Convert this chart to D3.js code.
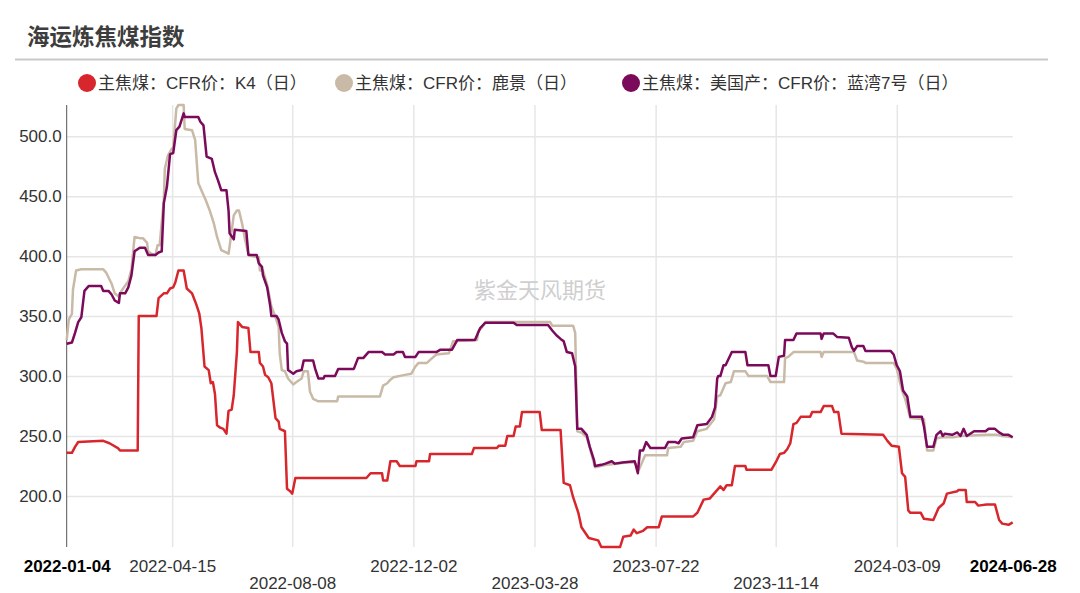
<!DOCTYPE html>
<html>
<head>
<meta charset="utf-8">
<script src="https://cdn.jsdelivr.net/npm/d3@7"></script>
<style>
html,body{margin:0;padding:0;background:#fff;}
svg{display:block;}
</style>
</head>
<body>
<svg id="chart" width="1080" height="593"></svg>
<script>
// ---------------- data ----------------
const title = "海运炼焦煤指数";
const watermark = "紫金天风期货";
const startDate = "2022-01-04";   // day 0
const endDate = "2024-06-28";
const seriesNames = ["主焦煤：CFR价：K4（日）", "主焦煤：CFR价：鹿景（日）", "主焦煤：美国产：CFR价：蓝湾7号（日）"];
const seriesColors = ["#d7262c", "#c8baa6", "#7c0a5b"];
const xTickLabels = ["2022-01-04","2022-04-15","2022-08-08","2022-12-02","2023-03-28","2023-07-22","2023-11-14","2024-03-09","2024-06-28"];
const yTickValues = [200, 250, 300, 350, 400, 450, 500];

// [days since startDate, value]
const k4 = [
[0,236],[5,236],[8,241],[11,245],[35,246],[41,244],[49,240],[51,238],[68,238],[69,350],[86,350],[88,365],[93,369],[96,369],[99,373],[102,374],[104,378],[107,388],[112,388],[115,373],[120,369],[124,360],[127,352],[129,340],[132,308],[136,305],[138,294],[140,295],[142,285],[144,259],[147,257],[150,256],[153,252],[155,271],[158,272],[160,284],[163,320],[164,345],[168,341],[174,340],[176,320],[184,320],[185,311],[188,308],[190,301],[193,299],[196,294],[200,265],[203,262],[204,256],[209,254],[211,206],[214,204],[216,202],[219,215],
[287,215],[291,219],[302,219],[303,213],[307,213],[310,229],[316,229],[319,225],[334,225],[335,229],[347,229],[348,235],[388,235],[390,240],[412,240],[414,242],[420,242],[422,250],[428,250],[430,258],[434,258],[436,270],[453,270],[455,255],[473,255],[476,211],[482,209],[485,199],[490,186],[493,174],[500,165],[509,163],[512,157.5],[530,157.5],[533,166],[540,167],[543,172],[546,169],[552,171],[556,174],[567,174],[570,183],[600,183],[604,186],[610,197],[616,198],[626,208],
[629,205],[632,209],[637,209],[640,225],[650,225],[651,222],[675,222],[679,228],[683,235],[687,236],[690,239],[693,244],[696,260],[699,261],[703,266],[712,266],[714,270],[722,270],[725,275],[733,275],[735,270],[739,270],[742,252],[782,251],[786,246],[790,242],[797,241],[800,219],[803,216],[806,188],[808,186],[818,186],[821,181],[830,180],[835,190],[840,194],[843,202],[853,204],[854,205],[861,205],[862,195],[870,195],[873,192],[881,193],[889,193],[893,180],[896,177],[902,176],[906,178]
];

const lujing = [
[0,330],[2,347],[5,352],[6,372],[9,388],[14,389],[35,389],[38,386],[43,377],[46,369],[50,366],[51,369],[54,373],[59,379],[62,389],[65,416],[70,415],[73,415],[77,411],[78,404],[81,402],[85,401],[87,409],[89,409],[93,447],[94,473],[97,484],[101,490],[102,490],[105,523],[107,526],[112,526],[113,506],[120,505],[123,497],[126,461],[129,455],[133,447],[137,438],[141,427],[144,416],[148,405],[155,402],[156,408],[160,434],[163,438],[165,438],[168,427],[171,413],[174,402],[177,400],[184,399],[185,388],[188,388],[192,376],[196,358],[200,349],[203,341],[204,319],[206,305],[209,304],[212,298],[217,293],[220,295],[225,298],[227,304],[231,304],[233,287],[236,281],[241,279],[259,279],[260,283],
[300,283],[303,292],[307,294],[310,297],[313,299],[324,301],[330,302],[334,308],[337,311],[345,311],[350,315],[354,318],[366,319],[370,329],[393,330],[394,337],[398,341],[401,345],[463,345],[465,342],[485,342],[487,336],[489,254],[493,253],[498,249],[501,240],[506,224],[517,226],[527,227],[536,228],[544,228],[548,222],[551,228],[554,234],[575,234],[576,240],[588,241],[591,245],[600,246],[604,254],[613,256],[620,264],[623,283],
[626,284],[631,294],[636,295],[639,304],[650,304],[653,300],[671,300],[674,295],[687,295],[688,315],[691,316],[696,320],[722,320],[723,316],[725,320],[754,320],[757,313],[763,312],[765,311],[792,311],[795,306],[800,288],[803,281],[808,265],[821,264],[824,238],[830,238],[833,248],[838,249],[849,249],[856,250],[881,251],[891,251],[896,250],[906,249]
];

const lanwan7 = [
[0,327],[5,328],[8,336],[11,345],[14,349],[17,371],[21,375],[33,375],[35,371],[40,371],[43,368],[46,363],[50,361],[51,369],[56,369],[59,374],[62,384],[65,404],[70,407],[75,407],[78,401],[85,401],[88,403],[91,404],[93,444],[96,458],[99,485],[102,486],[105,505],[108,508],[112,519],[113,516],[126,516],[128,512],[131,509],[134,483],[139,481],[142,470],[145,463],[148,455],[153,455],[155,438],[156,419],[160,414],[161,422],[172,421],[174,401],[182,401],[184,394],[187,391],[188,384],[192,374],[195,358],[196,350],[201,350],[203,347],[206,336],[209,329],[211,327],[212,305],[217,302],[220,304],[225,305],[227,313],[236,313],[238,306],[241,298],[246,298],[247,300],[257,300],[260,306],[275,306],[279,315],
[284,315],[289,320],[302,320],[305,318],[313,318],[316,320],[322,320],[324,316],[334,316],[337,320],[354,320],[358,322],[369,322],[374,330],[391,330],[393,334],[396,340],[401,344.5],[428,344.5],[431,342.5],[461,342.5],[465,338],[469,334],[473,331],[476,329],[479,320],[484,319],[487,308],[489,256],[493,256],[498,251],[501,241],[505,230],[506,225],[512,226],[516,227],[522,229],[525,227],[532,228],[544,229],[547,219],[549,238],[552,238],[555,245],[559,240],[573,240],[576,245],[583,245],[586,244],[589,248],[600,249],[604,259],[613,260],[618,266],[621,274],[623,298],[624,300],
[626,300],[629,309],[631,309],[637,320],[650,320],[652,309],[672,309],[674,300],[679,300],[682,316],[687,317],[688,330],[696,330],[699,335.6],[722,335.6],[723,331],[725,335.6],[734,335.6],[738,332.5],[749,332],[752,324],[754,321],[757,325],[763,325],[765,321],[789,321],[792,318],[795,309],[798,304],[801,288],[805,283],[808,266],[819,266],[821,258],[824,241],[830,241],[833,251],[837,254],[839,250],[841,252],[848,251],[853,253],[856,250],[859,256],[862,250],[869,254],[880,254],[883,256],[889,256],[893,253],[897,251],[902,251],[906,249]
];

// ---------------- drawing ----------------
const svg = d3.select("#chart");
const W = 1080, H = 593;
const margin = {left: 66.7, right: W - 1012.7, top: 105, bottom: H - 547};
const parse = d3.utcParse("%Y-%m-%d");
const t0 = parse(startDate);
const toDate = d => d3.utcDay.offset(t0, d);

const x = d3.scaleUtc()
  .domain([t0, parse(endDate)])
  .range([margin.left, W - margin.right]);

const allVals = [...k4, ...lujing, ...lanwan7].map(p => p[1]);
const y = d3.scaleLinear()
  .domain(d3.extent(allVals))
  .range([H - margin.bottom, margin.top]);

// title
svg.append("text")
  .attr("x", 27).attr("y", 35)
  .attr("dominant-baseline", "central")
  .attr("font-family", "'Noto Sans CJK SC', sans-serif")
  .attr("font-weight", 700)
  .attr("font-size", 22.5)
  .attr("fill", "#3d3d3d")
  .text(title);

svg.append("line")
  .attr("x1", 15).attr("x2", 1048).attr("y1", 59.5).attr("y2", 59.5)
  .attr("stroke", "#c9c9c9").attr("stroke-width", 2);

// legend
const legendPos = [{cx: 87, tx: 98}, {cx: 344, tx: 355}, {cx: 631, tx: 642}];
const legend = svg.append("g");
seriesNames.forEach((name, i) => {
  legend.append("circle")
    .attr("cx", legendPos[i].cx).attr("cy", 83).attr("r", 9)
    .attr("fill", seriesColors[i]);
  legend.append("text")
    .attr("x", legendPos[i].tx).attr("y", 83)
    .attr("dominant-baseline", "central")
    .attr("font-family", "'Liberation Sans', 'Noto Sans CJK SC', sans-serif")
    .attr("font-size", 17)
    .attr("fill", "#333")
    .text(name);
});

// horizontal grid + y labels
const yAxis = d3.axisLeft(y)
  .tickValues(yTickValues)
  .tickFormat(d3.format(".1f"))
  .tickSize(-(W - margin.left - margin.right))
  .tickPadding(5);
const gy = svg.append("g")
  .attr("transform", `translate(${margin.left},0)`)
  .call(yAxis);
gy.select(".domain").remove();
gy.selectAll(".tick line").attr("stroke", "#e6e6e6").attr("stroke-width", 1.5);
gy.selectAll(".tick text")
  .attr("font-family", "'Liberation Sans', Arial, sans-serif")
  .attr("font-size", 17)
  .attr("fill", "#333");

// vertical grid + x labels
const xTicks = xTickLabels.map(parse);
const xAxis = d3.axisBottom(x)
  .tickValues(xTicks)
  .tickFormat(d3.utcFormat("%Y-%m-%d"))
  .tickSize(-(H - margin.top - margin.bottom))
  .tickPadding(0);
const gx = svg.append("g")
  .attr("transform", `translate(0,${H - margin.bottom})`)
  .call(xAxis);
gx.select(".domain").remove();
gx.selectAll(".tick line")
  .attr("stroke", "#e6e6e6").attr("stroke-width", 1.5)
  .attr("display", (d, i) => (i === 0 || i === xTicks.length - 1) ? "none" : null);
gx.selectAll(".tick text")
  .attr("font-family", "'Liberation Sans', Arial, sans-serif")
  .attr("font-size", 17)
  .attr("fill", (d, i) => (i === 0 || i === xTicks.length - 1) ? "#000" : "#333")
  .attr("font-weight", (d, i) => (i === 0 || i === xTicks.length - 1) ? 700 : 400)
  .attr("dy", null)
  .attr("y", (d, i) => [2, 4, 6].includes(i) ? 42 : 24.5);

// y axis line
svg.append("line")
  .attr("x1", margin.left).attr("x2", margin.left)
  .attr("y1", margin.top).attr("y2", H - margin.bottom)
  .attr("stroke", "#555").attr("stroke-width", 1);

// watermark
svg.append("text")
  .attr("x", 540).attr("y", 288)
  .attr("text-anchor", "middle").attr("dominant-baseline", "central")
  .attr("font-family", "'Noto Sans CJK SC', sans-serif")
  .attr("font-size", 22)
  .attr("fill", "#cfcfcf")
  .text(watermark);

// lines
const line = d3.line()
  .x(p => x(toDate(p[0])))
  .y(p => y(p[1]));
[k4, lujing, lanwan7].forEach((data, i) => {
  svg.append("path")
    .datum(data)
    .attr("fill", "none")
    .attr("stroke", seriesColors[i])
    .attr("stroke-width", 2.5)
    .attr("stroke-linejoin", "round")
    .attr("d", line);
});
</script>
</body>
</html>
